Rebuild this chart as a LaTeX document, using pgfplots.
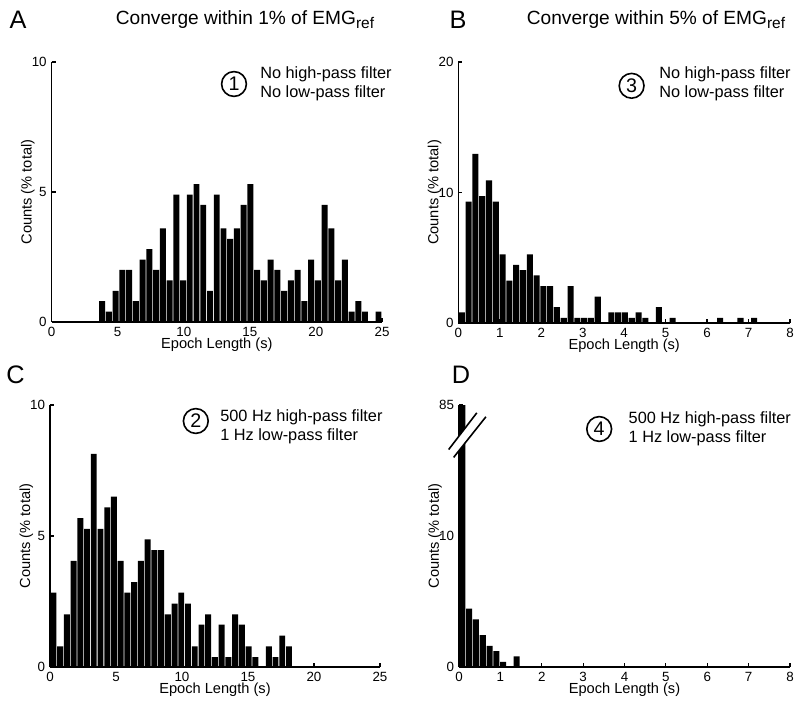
\documentclass[border=0pt]{standalone}
\usepackage{fontspec}
\setmainfont{Liberation Sans}
\usepackage{pgfplots}
\pgfplotsset{compat=1.18}

\pgfplotsset{
  panel/.style={
    scale only axis, anchor=south west,
    axis x line*=bottom, axis y line*=left,
    axis line style={line width=0.35mm, -},
    tick style={black, line width=0.3mm},
    tick align=inside, major tick length=1mm,
    enlargelimits=false, ymin=0, axis on top,
    /pgf/number format/assume math mode=true,
    ticklabel style={font=\fontsize{9.5}{10}\selectfont},
    label style={font=\fontsize{10.4}{12}\selectfont},
    xlabel={Epoch Length (s)}, ylabel={Counts (\% total)},
    xlabel style={at={(axis description cs:0.5,-0.088)}, anchor=center},
  },
  bars/.style={ybar, fill=black, draw=none, bar shift=0pt, bar width=#1},
}

\begin{document}
\begin{tikzpicture}
\path[use as bounding box] (0,0) rectangle (200mm,178mm);

% ---- A: within 1%, no filters
\begin{axis}[panel, at={(12.9mm,97.5mm)}, width=82.6mm, height=65mm,
  xmin=0, xmax=25, ymax=10, xtick={0,5,...,25}, ytick={0,5,10},
  ylabel style={at={(axis description cs:-0.072,0.5)}, anchor=center}]
\addplot[bars=0.45] coordinates {
 (3.825,0.8) (4.335,0.4) (4.845,1.2) (5.355,2.0) (5.865,2.0) (6.375,0.8)
 (6.885,2.4) (7.395,2.8) (7.905,2.0) (8.415,3.6) (8.925,1.6) (9.435,4.9)
 (9.945,1.6) (10.455,4.9) (10.965,5.3) (11.475,4.5) (11.985,1.2) (12.495,4.9)
 (13.005,3.6) (13.515,3.2) (14.025,3.6) (14.535,4.5) (15.045,5.3) (15.555,2.0)
 (16.065,1.6) (16.575,2.4) (17.085,2.0) (17.595,1.2) (18.105,1.6) (18.615,2.0)
 (19.125,0.8) (19.635,2.4) (20.145,1.6) (20.655,4.5) (21.165,3.6) (21.675,1.6)
 (22.185,2.4) (22.695,0.4) (23.205,0.8) (23.715,0.4) (24.735,0.4)};
\end{axis}

% ---- B: within 5%, no filters
\begin{axis}[panel, at={(114.6mm,97.25mm)}, width=82.9mm, height=65.25mm,
  xmin=0, xmax=8, ymax=20, xtick={0,1,...,8}, ytick={0,10,20},
  ylabel style={at={(axis description cs:-0.072,0.5)}, anchor=center}]
\addplot[bars=0.146] coordinates {
 (0.082,0.81) (0.246,9.31) (0.410,12.96) (0.574,9.72) (0.738,10.93) (0.902,9.31)
 (1.066,5.26) (1.230,3.24) (1.394,4.45) (1.558,4.05) (1.722,5.26) (1.886,3.64)
 (2.050,2.83) (2.214,2.83) (2.378,1.21) (2.542,0.40) (2.706,2.83) (2.870,0.40)
 (3.034,0.40) (3.198,0.40) (3.362,2.02) (3.690,0.81) (3.854,0.81) (4.018,0.81)
 (4.182,0.40) (4.346,0.81) (4.510,0.40) (4.838,1.21) (5.166,0.40) (6.314,0.40)
 (6.806,0.40) (7.134,0.40)};
\end{axis}

% ---- C: within 1%, filtered
\begin{axis}[panel, at={(12.5mm,11.25mm)}, width=82.5mm, height=65.5mm,
  xmin=0, xmax=25, ymax=10, xtick={0,5,...,25}, ytick={0,5,10},
  ylabel style={at={(axis description cs:-0.072,0.5)}, anchor=center}]
\addplot[bars=0.45] coordinates {
 (0.255,2.84) (0.765,0.79) (1.275,2.01) (1.785,4.05) (2.295,5.68) (2.805,5.27)
 (3.315,8.13) (3.825,5.27) (4.335,6.09) (4.845,6.50) (5.355,4.05) (5.865,2.84)
 (6.375,3.24) (6.885,4.05) (7.395,4.87) (7.905,4.46) (8.415,4.46) (8.925,2.01)
 (9.435,2.42) (9.945,2.84) (10.455,2.42) (10.965,0.79) (11.475,1.62) (11.985,2.01)
 (12.495,0.38) (13.005,1.62) (13.515,0.38) (14.025,2.01) (14.535,1.62) (15.045,0.79)
 (15.555,0.38) (16.575,0.79) (17.085,0.38) (17.595,1.20) (18.105,0.79)};
\end{axis}

% ---- D: within 5%, filtered (broken y axis)
\begin{axis}[panel, at={(114.75mm,11.25mm)}, width=82.75mm, height=65.5mm,
  xmin=0, xmax=8, ymax=20, xtick={0,1,...,8}, ytick={0,10,20},
  yticklabels={0,10,85},
  ylabel style={at={(axis description cs:-0.072,0.5)}, anchor=center}]
\addplot[bars=0.146] coordinates {
 (0.082,85) (0.246,4.45) (0.410,3.64) (0.574,2.43) (0.738,1.62) (0.902,1.21)
 (1.066,0.40) (1.394,0.81)};
\coordinate (u1) at (axis cs:-0.25,16.6);
\coordinate (u2) at (axis cs:0.43,19.4);
\coordinate (l1) at (axis cs:-0.13,16.0);
\coordinate (l2) at (axis cs:0.65,19.1);
\end{axis}
\fill[white] (u1) -- (u2) -- (l2) -- (l1) -- cycle;
\draw[line width=0.4mm] (u1) -- (u2);
\draw[line width=0.4mm] (l1) -- (l2);

% ---- panel letters and titles
\node at (4.5mm,173mm) {\fontsize{18}{20}\selectfont A};
\node at (114.5mm,173mm) {\fontsize{18}{20}\selectfont B};
\node at (3.9mm,84.25mm) {\fontsize{18}{20}\selectfont C};
\node at (115.25mm,84.25mm) {\fontsize{18}{20}\selectfont D};
\node at (61.25mm,173mm) {\fontsize{13.6}{15}\selectfont Converge within 1\% of EMG\raisebox{-0.35ex}{\fontsize{11}{12}\selectfont ref}};
\node at (164mm,173mm) {\fontsize{13.6}{15}\selectfont Converge within 5\% of EMG\raisebox{-0.35ex}{\fontsize{11}{12}\selectfont ref}};

% ---- condition labels
\tikzset{num/.style={circle, draw, line width=0.4mm, minimum size=6.2mm, inner sep=0pt, font=\fontsize{14}{14}\selectfont},
         cond/.style={anchor=west, align=left, inner sep=0pt, font=\fontsize{11.6}{13.5}\selectfont}}
\node[num] at (58.5mm,157mm) {1};
\node[cond] at (65mm,157mm) {No high-pass filter\\No low-pass filter};
\node[num] at (157.9mm,156.55mm) {3};
\node[cond] at (164.75mm,157mm) {No high-pass filter\\No low-pass filter};
\node[num] at (48.95mm,72.75mm) {2};
\node[cond] at (55mm,71.25mm) {500 Hz high-pass filter\\1 Hz low-pass filter};
\node[num] at (149.8mm,70.75mm) {4};
\node[cond] at (157.1mm,70.7mm) {500 Hz high-pass filter\\1 Hz low-pass filter};
\end{tikzpicture}
\end{document}
